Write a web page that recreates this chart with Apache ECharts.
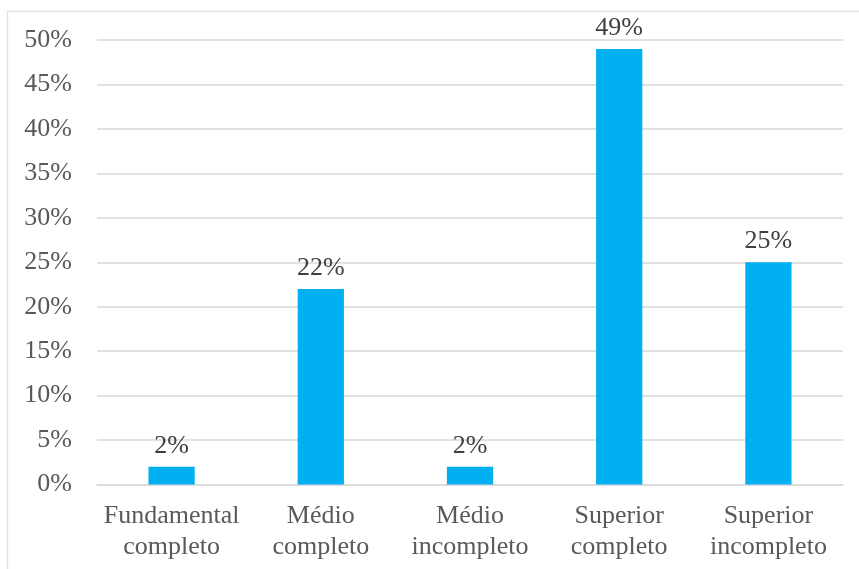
<!DOCTYPE html>
<html>
<head>
<meta charset="utf-8">
<script src="https://cdn.jsdelivr.net/npm/echarts@6/dist/echarts.min.js"></script>
<style>
  html, body { margin: 0; padding: 0; background: #ffffff; }
  #chart { width: 859px; height: 569px; }
</style>
</head>
<body>
<div id="chart"></div>
<script>
// Education level categories (two-line labels)
const categories = [
  'Fundamental\ncompleto',
  'Médio\ncompleto',
  'Médio\nincompleto',
  'Superior\ncompleto',
  'Superior\nincompleto'
];
// Share of respondents, in percent
const shares = [2, 22, 2, 49, 25];
// Value axis range and step, in percent
const axisMin = 0;
const axisMax = 50;
const axisStep = 5;

const serif = '"Liberation Serif", "Times New Roman", serif';

const chart = echarts.init(document.getElementById('chart'), null, { renderer: 'canvas' });

chart.setOption({
  backgroundColor: '#ffffff',
  animation: false,
  graphic: [
    {
      type: 'polyline',
      shape: { points: [[7.5, 569], [7.5, 11.5], [859, 11.5]] },
      style: { stroke: '#e3e3e3', lineWidth: 1.5, fill: null },
      silent: true
    }
  ],
  grid: { left: 97, right: 16, top: 40, bottom: 84.5, containLabel: false },
  xAxis: {
    type: 'category',
    data: categories,
    axisLine: { show: true, lineStyle: { color: '#d9d9d9', width: 1.5 } },
    axisTick: { show: false },
    axisLabel: {
      color: '#595959',
      fontFamily: serif,
      fontSize: 26,
      lineHeight: 31,
      margin: 16,
      interval: 0
    }
  },
  yAxis: {
    type: 'value',
    min: axisMin,
    max: axisMax,
    interval: axisStep,
    axisLine: { show: false },
    axisTick: { show: false },
    splitLine: { lineStyle: { color: '#d9d9d9', width: 1.5 } },
    axisLabel: {
      color: '#595959',
      fontFamily: serif,
      fontSize: 26,
      margin: 25,
      formatter: v => v + '%'
    }
  },
  series: [
    {
      type: 'bar',
      data: shares,
      barWidth: '31%',
      itemStyle: { color: '#00b0f0' },
      label: {
        show: true,
        position: 'top',
        distance: 8,
        color: '#404040',
        fontFamily: serif,
        fontSize: 26,
        formatter: p => p.value + '%'
      }
    }
  ]
});
</script>
</body>
</html>
